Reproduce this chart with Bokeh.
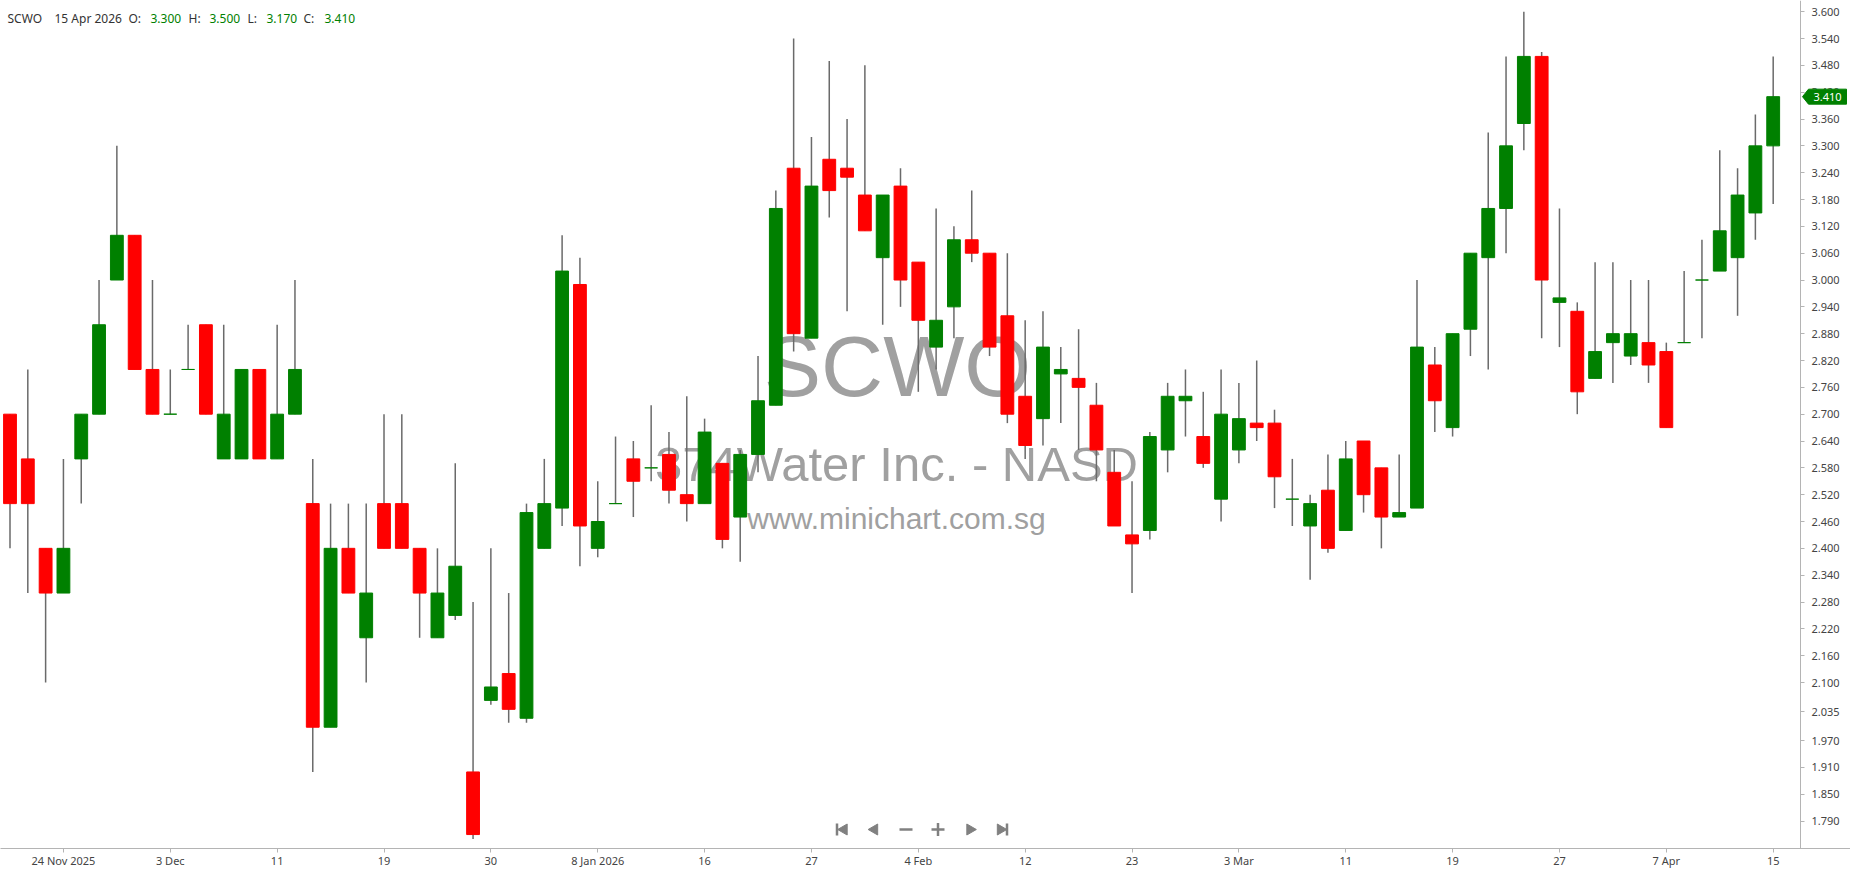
from bokeh.plotting import figure
from bokeh.models import (Range1d, FixedTicker, NumeralTickFormatter, Label, ColumnDataSource,
                          LinearAxis)
from bokeh.embed import file_html
from bokeh.resources import INLINE

# ---------------- data ----------------
dates = [
    "2025-11-19", "2025-11-20", "2025-11-21", "2025-11-24", "2025-11-25", "2025-11-26", "2025-11-28",
    "2025-12-01", "2025-12-02", "2025-12-03", "2025-12-04", "2025-12-05", "2025-12-08", "2025-12-09",
    "2025-12-10", "2025-12-11", "2025-12-12", "2025-12-15", "2025-12-16", "2025-12-17", "2025-12-18",
    "2025-12-19", "2025-12-22", "2025-12-23", "2025-12-24", "2025-12-26", "2025-12-29", "2025-12-30",
    "2025-12-31", "2026-01-02", "2026-01-05", "2026-01-06", "2026-01-07", "2026-01-08", "2026-01-09",
    "2026-01-12", "2026-01-13", "2026-01-14", "2026-01-15", "2026-01-16", "2026-01-20", "2026-01-21",
    "2026-01-22", "2026-01-23", "2026-01-26", "2026-01-27", "2026-01-28", "2026-01-29", "2026-01-30",
    "2026-02-02", "2026-02-03", "2026-02-04", "2026-02-05", "2026-02-06", "2026-02-09", "2026-02-10",
    "2026-02-11", "2026-02-12", "2026-02-13", "2026-02-17", "2026-02-18", "2026-02-19", "2026-02-20",
    "2026-02-23", "2026-02-24", "2026-02-25", "2026-02-26", "2026-02-27", "2026-03-02", "2026-03-03",
    "2026-03-04", "2026-03-05", "2026-03-06", "2026-03-09", "2026-03-10", "2026-03-11", "2026-03-12",
    "2026-03-13", "2026-03-16", "2026-03-17", "2026-03-18", "2026-03-19", "2026-03-20", "2026-03-23",
    "2026-03-24", "2026-03-25", "2026-03-26", "2026-03-27", "2026-03-30", "2026-03-31", "2026-04-01",
    "2026-04-02", "2026-04-06", "2026-04-07", "2026-04-08", "2026-04-09", "2026-04-10", "2026-04-13",
    "2026-04-14", "2026-04-15",
]

opens = [
    2.70, 2.60, 2.40, 2.30, 2.60, 2.70, 3.00,
    3.10, 2.80, 2.70, 2.80, 2.90, 2.60, 2.60,
    2.80, 2.60, 2.70, 2.50, 2.00, 2.40, 2.20,
    2.50, 2.50, 2.40, 2.20, 2.25, 1.90, 2.06,
    2.12, 2.02, 2.40, 2.49, 2.99, 2.40, 2.50,
    2.60, 2.58, 2.61, 2.52, 2.50, 2.59, 2.47,
    2.61, 2.72, 3.25, 2.87, 3.27, 3.25, 3.19,
    3.05, 3.21, 3.04, 2.85, 2.94, 3.09, 3.06,
    2.92, 2.74, 2.69, 2.79, 2.78, 2.72, 2.57,
    2.43, 2.44, 2.62, 2.73, 2.65, 2.51, 2.62,
    2.68, 2.68, 2.51, 2.45, 2.53, 2.44, 2.64,
    2.58, 2.47, 2.49, 2.81, 2.67, 2.89, 3.05,
    3.16, 3.35, 3.50, 2.95, 2.93, 2.78, 2.86,
    2.83, 2.86, 2.84, 2.86, 3.00, 3.02, 3.05,
    3.15, 3.30,
]

highs = [
    2.70, 2.80, 2.40, 2.60, 2.70, 3.00, 3.30,
    3.10, 3.00, 2.80, 2.90, 2.90, 2.90, 2.80,
    2.80, 2.90, 3.00, 2.60, 2.50, 2.50, 2.50,
    2.70, 2.70, 2.40, 2.40, 2.59, 2.28, 2.40,
    2.30, 2.50, 2.60, 3.10, 3.05, 2.55, 2.65,
    2.64, 2.72, 2.66, 2.74, 2.69, 2.59, 2.62,
    2.83, 3.20, 3.54, 3.32, 3.49, 3.36, 3.48,
    3.19, 3.25, 3.04, 3.16, 3.12, 3.20, 3.06,
    3.06, 2.91, 2.93, 2.85, 2.89, 2.77, 2.62,
    2.55, 2.66, 2.77, 2.80, 2.75, 2.80, 2.77,
    2.82, 2.71, 2.60, 2.52, 2.61, 2.64, 2.64,
    2.58, 2.61, 3.00, 2.85, 2.88, 3.06, 3.33,
    3.50, 3.60, 3.51, 3.16, 2.95, 3.04, 3.04,
    3.00, 3.00, 2.86, 3.02, 3.09, 3.29, 3.25,
    3.37, 3.50,
]

lows = [
    2.40, 2.30, 2.10, 2.30, 2.50, 2.70, 3.00,
    2.80, 2.70, 2.70, 2.80, 2.70, 2.60, 2.60,
    2.60, 2.60, 2.70, 1.90, 2.00, 2.30, 2.10,
    2.40, 2.40, 2.20, 2.20, 2.24, 1.75, 2.05,
    2.01, 2.01, 2.40, 2.45, 2.36, 2.38, 2.50,
    2.47, 2.55, 2.50, 2.46, 2.50, 2.40, 2.37,
    2.57, 2.72, 2.84, 2.87, 3.14, 2.93, 3.11,
    2.90, 2.94, 2.75, 2.80, 2.87, 3.04, 2.83,
    2.68, 2.60, 2.63, 2.68, 2.62, 2.55, 2.45,
    2.30, 2.42, 2.57, 2.65, 2.58, 2.46, 2.59,
    2.64, 2.49, 2.45, 2.33, 2.39, 2.44, 2.48,
    2.40, 2.47, 2.49, 2.66, 2.65, 2.83, 2.80,
    3.06, 3.29, 2.87, 2.85, 2.70, 2.78, 2.77,
    2.81, 2.77, 2.67, 2.86, 2.87, 3.02, 2.92,
    3.09, 3.17,
]

closes = [
    2.50, 2.50, 2.30, 2.40, 2.70, 2.90, 3.10,
    2.80, 2.70, 2.70, 2.80, 2.70, 2.70, 2.80,
    2.60, 2.70, 2.80, 2.00, 2.40, 2.30, 2.30,
    2.40, 2.40, 2.30, 2.30, 2.36, 1.76, 2.09,
    2.04, 2.48, 2.50, 3.02, 2.45, 2.46, 2.50,
    2.55, 2.58, 2.53, 2.50, 2.66, 2.42, 2.61,
    2.73, 3.16, 2.88, 3.21, 3.20, 3.23, 3.11,
    3.19, 3.00, 2.91, 2.91, 3.09, 3.06, 2.85,
    2.70, 2.63, 2.85, 2.80, 2.76, 2.62, 2.45,
    2.41, 2.65, 2.74, 2.74, 2.59, 2.70, 2.69,
    2.67, 2.56, 2.51, 2.50, 2.40, 2.60, 2.52,
    2.47, 2.48, 2.85, 2.73, 2.88, 3.06, 3.16,
    3.30, 3.50, 3.00, 2.96, 2.75, 2.84, 2.88,
    2.88, 2.81, 2.67, 2.86, 3.00, 3.11, 3.19,
    3.30, 3.41,
]

y_ticks = [3.600, 3.540, 3.480, 3.420, 3.360, 3.300, 3.240, 3.180, 3.120, 3.060,
           3.000, 2.940, 2.880, 2.820, 2.760, 2.700, 2.640, 2.580, 2.520, 2.460,
           2.400, 2.340, 2.280, 2.220, 2.160, 2.100, 2.035, 1.970, 1.910, 1.850, 1.790]

x_tick_dates = ["2025-11-24", "2025-12-03", "2025-12-11", "2025-12-19", "2025-12-30",
                "2026-01-08", "2026-01-16", "2026-01-27", "2026-02-04", "2026-02-12",
                "2026-02-23", "2026-03-03", "2026-03-11", "2026-03-19", "2026-03-27",
                "2026-04-07", "2026-04-15"]
x_tick_labels = ["24 Nov 2025", "3 Dec", "11", "19", "30", "8 Jan 2026", "16", "27",
                 "4 Feb", "12", "23", "3 Mar", "11", "19", "27", "7 Apr", "15"]

symbol = "SCWO"
company = "374Water Inc. - NASD"
site = "www.minichart.com.sg"

# ---------------- layout helpers ----------------
GREEN = "#008000"
RED = "#ff0000"
PX_PER_BAR = 17.81
PX_PER_UNIT = 447.2
FRAME_W = 1850
FRAME_H = 848
AXIS_PX = 1800


def dx(px):
    return (px - 9.5) / PX_PER_BAR


def dy(py):
    return 3.6 - (py - 11.2) / PX_PER_UNIT


idx = list(range(len(dates)))
colors = [GREEN if c >= o else RED for o, c in zip(opens, closes)]
tops = [max(o, c) for o, c in zip(opens, closes)]
bottoms = [min(o, c) for o, c in zip(opens, closes)]
src = ColumnDataSource(dict(x=idx, o=opens, h=highs, l=lows, c=closes,
                            top=tops, bottom=bottoms, color=colors))

p = figure(frame_width=FRAME_W, frame_height=FRAME_H,
           x_range=Range1d(dx(0), dx(FRAME_W)),
           y_range=Range1d(dy(FRAME_H), dy(0)),
           y_axis_location=None,
           output_backend="svg", toolbar_location=None,
           min_border_left=0, min_border_right=0, min_border_top=0, min_border_bottom=0,
           background_fill_color="white", border_fill_color="white")
p.outline_line_color = None
p.grid.visible = False

# watermark
for txt, px, py, size in [(symbol, 897, 365, "86px"), (company, 896, 463, "49px"), (site, 896, 518, "30px")]:
    p.add_layout(Label(x=dx(px), y=dy(py), text=txt, text_align="center", text_baseline="middle",
                       text_font="Liberation Sans", text_font_size=size, text_color="#a0a0a0",
                       level="underlay"))

# candles
p.segment(x0="x", y0="l", x1="x", y1="h", source=src, line_color="#6a6a6a", line_width=1.5)
p.vbar(x="x", width=0.72, top="top", bottom="bottom", source=src,
       fill_color="color", line_color="color", line_width=1)

# axes
ax = p.xaxis[0]
ax.ticker = FixedTicker(ticks=[dates.index(d) for d in x_tick_dates])
ax.major_label_overrides = {dates.index(d): lab for d, lab in zip(x_tick_dates, x_tick_labels)}
ay = LinearAxis(ticker=FixedTicker(ticks=y_ticks), formatter=NumeralTickFormatter(format="0.000"),
                fixed_location=dx(AXIS_PX))
p.add_layout(ay, "right")
for a in (ax, ay):
    a.axis_line_color = "#b4b4b4"
    a.major_tick_line_color = "#b4b4b4"
    a.minor_tick_line_color = None
    a.major_tick_in = 0
    a.major_tick_out = 4
    a.major_label_text_font = "Noto Sans"
    a.major_label_text_font_size = "11px"
    a.major_label_text_color = "#444444"
ax.major_label_standoff = 0
ay.major_label_standoff = 7

# header
hdr = [("SCWO", 7, "#333333"), ("15 Apr 2026", 54, "#333333"),
       ("O:", 128, "#333333"), (f"{opens[-1]:.3f}", 150, GREEN),
       ("H:", 188, "#333333"), (f"{highs[-1]:.3f}", 209, GREEN),
       ("L:", 247, "#333333"), (f"{lows[-1]:.3f}", 266, GREEN),
       ("C:", 303, "#333333"), (f"{closes[-1]:.3f}", 324, GREEN)]
for txt, px, col in hdr:
    p.add_layout(Label(x=dx(px), y=dy(18), text=txt, text_align="left", text_baseline="middle",
                       text_font="Noto Sans", text_font_size="12px", text_color=col))

# last price marker on the axis
last = closes[-1]
half = 7.5 / PX_PER_UNIT
p.patch(x=[dx(1802), dx(1808), dx(1846), dx(1846), dx(1808)],
        y=[last, last + half, last + half, last - half, last - half],
        fill_color=GREEN, line_color=GREEN, level="overlay")
p.add_layout(Label(x=dx(1827), y=last, text=f"{last:.3f}", text_align="center",
                   text_baseline="middle", text_font="Noto Sans", text_font_size="11px",
                   text_color="white", level="overlay"))

# navigation icons
nav_y = dy(829)
icon = "#808080"
p.scatter(x=[dx(843.5), dx(874)], y=[nav_y, nav_y], marker="triangle", angle=1.5708,
          size=11, fill_color=icon, line_color=icon)
p.scatter(x=[dx(969.5), dx(1000)], y=[nav_y, nav_y], marker="triangle", angle=-1.5708,
          size=11, fill_color=icon, line_color=icon)
p.scatter(x=[dx(836.5), dx(1006.5)], y=[nav_y, nav_y], marker="dash", angle=1.5708,
          size=12, line_color=icon, line_width=2.5)
p.scatter(x=[dx(905.5)], y=[nav_y], marker="dash", size=13, line_color=icon, line_width=2.5)
p.scatter(x=[dx(937.5)], y=[nav_y], marker="cross", size=13, line_color=icon, line_width=2.5)

open("out.html", "w").write(file_html(p, INLINE))
